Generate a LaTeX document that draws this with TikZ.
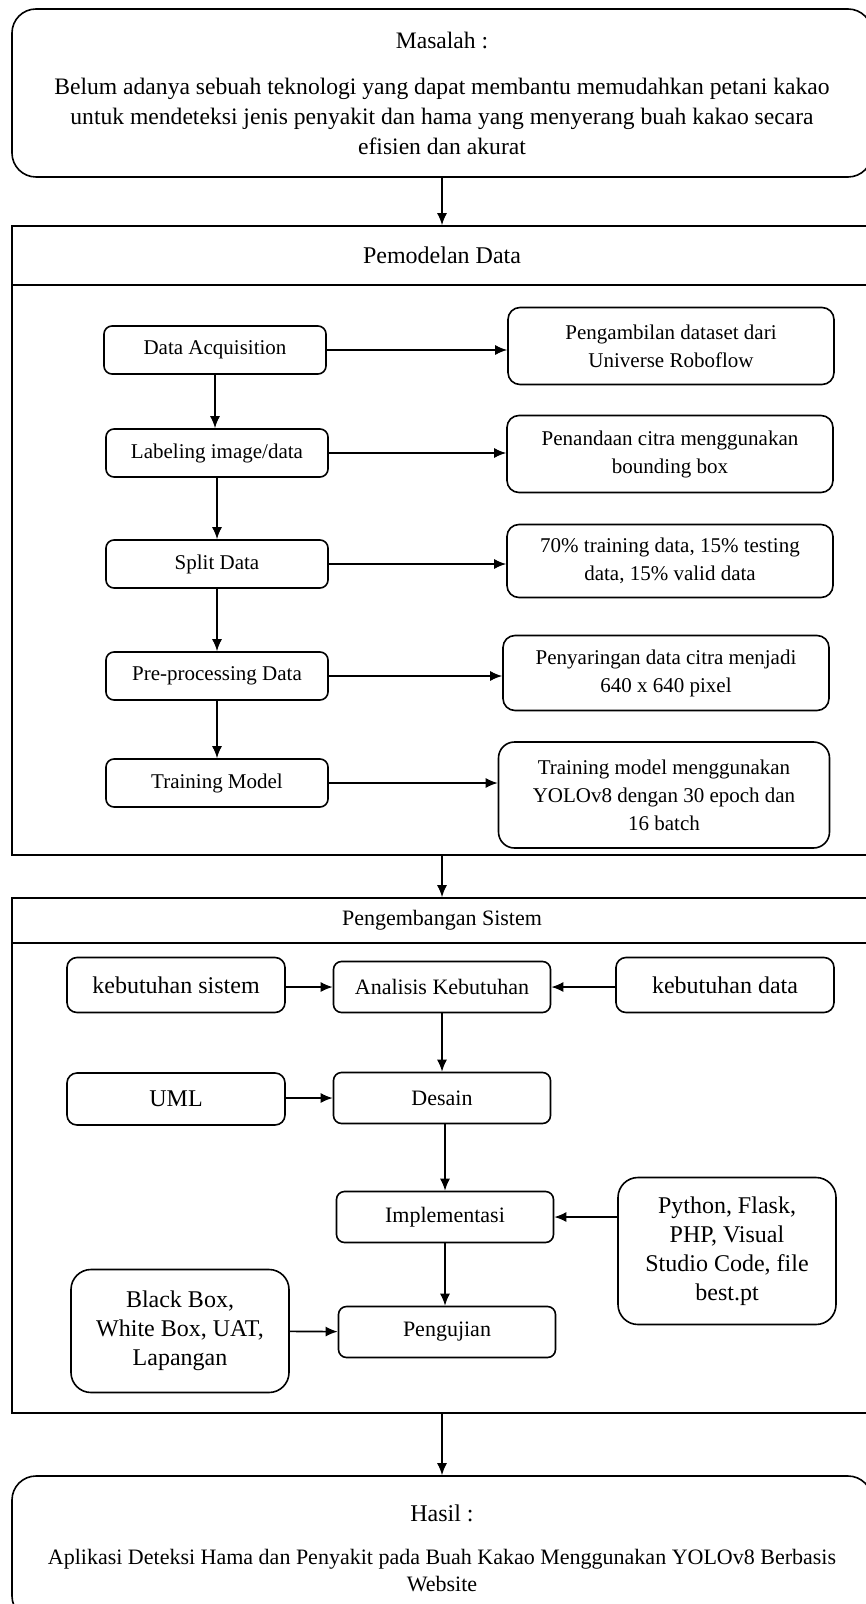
\documentclass[tikz,border=0pt]{standalone}
\usepackage{fontspec}
\setmainfont{Liberation Serif}
\usetikzlibrary{arrows.meta}

\begin{document}
\begin{tikzpicture}[x=0.5pt,y=-0.5pt,line width=0.8pt,>={Latex[length=6pt,width=5pt]}]
    %
    % `bigbox' is used for Masalah and Hasil.
    % `panel' is used for the section frames and their title rows.
    % `task' and `result' are the boxes of Pemodelan Data.
    % `stage' and `need' are the boxes of Pengembangan Sistem.
    \tikzstyle{bigbox} = [draw,rounded corners=12pt,align=center,inner sep=0pt,minimum width=430pt,font=\fontsize{11.8}{15}\selectfont]
    \tikzstyle{panel} = [draw,shape=rectangle,minimum width=430pt,inner sep=0pt]
    \tikzstyle{task} = [draw,rounded corners=4pt,align=center,inner sep=0pt,minimum width=111pt,minimum height=24pt,font=\fontsize{10.5}{14}\selectfont]
    \tikzstyle{result} = [draw,rounded corners=6pt,align=center,inner sep=0pt,minimum width=163pt,font=\fontsize{10.5}{14}\selectfont]
    \tikzstyle{stage} = [draw,rounded corners=4pt,align=center,inner sep=0pt,minimum width=108.5pt,minimum height=25.5pt,font=\fontsize{11}{14}\selectfont]
    \tikzstyle{need} = [draw,rounded corners=5pt,align=center,inner sep=0pt,minimum width=109pt,font=\fontsize{12}{14.5}\selectfont]
    %
    \useasboundingbox (0,0) rectangle (866,1604);
    \clip (0,0) rectangle (866,1604);
    %
    % Masalah
    \node[bigbox,minimum height=84pt] (masalah) at (442,93) {Masalah :\\[8pt]
        Belum adanya sebuah teknologi yang dapat membantu memudahkan petani kakao\\
        untuk mendeteksi jenis penyakit dan hama yang menyerang buah kakao secara\\
        efisien dan akurat};
    %
    % Pemodelan Data
    \node[panel,minimum height=29.5pt,font=\fontsize{12}{15}\selectfont] (pemodelanhead) at (442,255.5) {Pemodelan Data};
    \node[panel,minimum height=285pt] (pemodelan) at (442,570) {};
    \draw[->] (masalah) -- (pemodelanhead);
    %
    \node[task] (acq) at (215,350) {Data Acquisition};
    \node[task] (label) at (217,453) {Labeling image/data};
    \node[task] (split) at (217,564) {Split Data};
    \node[task] (prep) at (217,676) {Pre-processing Data};
    \node[task] (train) at (217,783) {Training Model};
    \draw[->] (acq) -- (acq |- label.north);
    \draw[->] (label) -- (split);
    \draw[->] (split) -- (prep);
    \draw[->] (prep) -- (train);
    %
    \node[result,minimum height=38.5pt] (ambil) at (671,346) {Pengambilan dataset dari\\Universe Roboflow};
    \node[result,minimum height=38.5pt] (tanda) at (670,454) {Penandaan citra menggunakan\\bounding box};
    \node[result,minimum height=36.5pt] (bagi) at (670,561) {70\% training data, 15\% testing\\data, 15\% valid data};
    \node[result,minimum height=37.5pt] (saring) at (666,673) {Penyaringan data citra menjadi\\640 x 640 pixel};
    \node[result,minimum height=53pt,minimum width=165.5pt,rounded corners=8pt] (latih) at (664,795) {Training model menggunakan\\YOLOv8 dengan 30 epoch dan\\16 batch};
    \draw[->] (acq.east) -- (acq.east -| ambil.west);
    \draw[->] (label.east) -- (label.east -| tanda.west);
    \draw[->] (split.east) -- (split.east -| bagi.west);
    \draw[->] (prep.east) -- (prep.east -| saring.west);
    \draw[->] (train.east) -- (train.east -| latih.west);
    %
    % Pengembangan Sistem
    \node[panel,minimum height=22.5pt,font=\fontsize{11}{14}\selectfont] (pengembanganhead) at (442,920.5) {Pengembangan Sistem};
    \node[panel,minimum height=235pt] (pengembangan) at (442,1178) {};
    \draw[->] (pemodelan) -- (pengembanganhead);
    %
    \node[need,minimum height=27.5pt] (kebsis) at (176,985) {kebutuhan sistem};
    \node[stage] (analisis) at (442,987) {Analisis Kebutuhan};
    \node[need,minimum height=27.5pt] (kebdat) at (725,985) {kebutuhan data};
    \node[need,minimum height=26pt] (uml) at (176,1099) {UML};
    \node[stage] (desain) at (442,1098) {Desain};
    \node[stage] (impl) at (445,1217) {Implementasi};
    \node[need,minimum height=73.5pt,rounded corners=10pt] (python) at (727,1251) {Python, Flask,\\PHP, Visual\\Studio Code, file\\best.pt};
    \node[need,minimum height=61.5pt,rounded corners=10pt] (blackbox) at (180,1331) {Black Box,\\White Box, UAT,\\Lapangan};
    \node[stage] (uji) at (447,1332) {Pengujian};
    %
    \draw[->] (kebsis.east |- analisis) -- (analisis);
    \draw[->] (kebdat.west |- analisis) -- (analisis);
    \draw[->] (analisis) -- (desain);
    \draw[->] (uml.east |- desain) -- (desain);
    \draw[->] (desain.south -| impl) -- (impl);
    \draw[->] (python.west |- impl) -- (impl);
    \draw[->] (impl) -- (impl |- uji.north);
    \draw[->] (blackbox) -- (uji);
    %
    % Hasil
    \node[bigbox,minimum height=72pt,font=\fontsize{11}{13.5}\selectfont] (hasil) at (442,1548) {{\fontsize{12}{15}\selectfont Hasil :}\\[8pt]
        Aplikasi Deteksi Hama dan Penyakit pada Buah Kakao Menggunakan YOLOv8 Berbasis\\
        Website};
    \draw[->] (pengembangan) -- (hasil);
    %
\end{tikzpicture}
\end{document}
